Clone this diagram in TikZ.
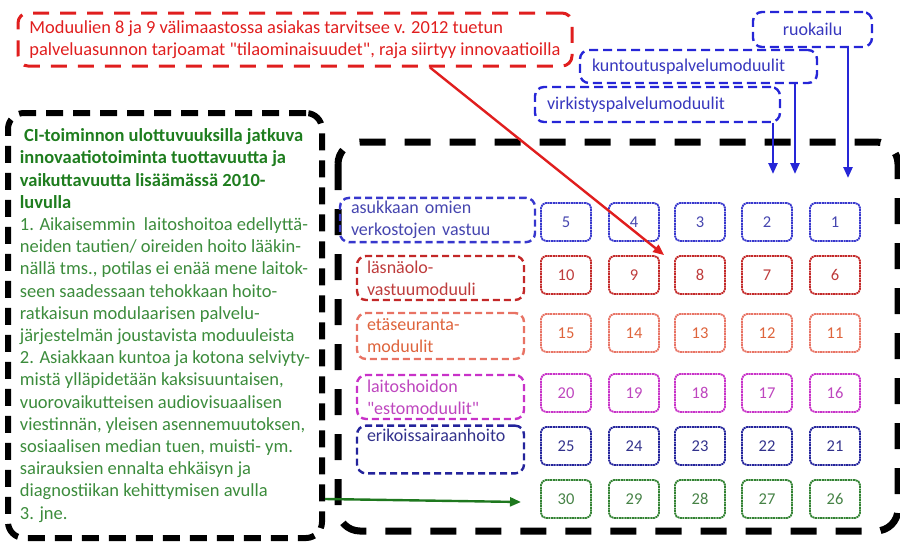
\documentclass[tikz,border=0pt]{standalone}
\usepackage{fontspec}
\setmainfont{Carlito}[Ligatures=TeXOff]
\usetikzlibrary{arrows.meta,positioning}

\definecolor{notered}{RGB}{224,30,30}
\definecolor{topblue}{RGB}{38,38,215}
\definecolor{topbluetxt}{RGB}{55,55,190}
\definecolor{row1col}{RGB}{55,55,205}
\definecolor{row1txt}{RGB}{70,70,175}
\definecolor{row2col}{RGB}{195,40,40}
\definecolor{row2txt}{RGB}{190,60,60}
\definecolor{row3col}{RGB}{232,115,100}
\definecolor{row3txt}{RGB}{222,100,60}
\definecolor{row4col}{RGB}{200,50,200}
\definecolor{row4txt}{RGB}{190,70,190}
\definecolor{row5col}{RGB}{35,35,155}
\definecolor{row5txt}{RGB}{50,50,140}
\definecolor{row6col}{RGB}{50,130,50}
\definecolor{row6txt}{RGB}{70,130,70}
\definecolor{cihead}{RGB}{30,125,30}
\definecolor{citext}{RGB}{60,140,60}
\definecolor{greenarr}{RGB}{30,120,30}

\newcommand{\cihd}[1]{\textcolor{cihead}{\textbf{#1}}}

\begin{document}
\begin{tikzpicture}[
        x=1pt, y=-1pt,
        font=\fontsize{18}{22}\selectfont,
        numbox/.style={draw, rounded corners=5pt, minimum width=50, minimum height=38, line width=1.8pt, dash pattern=on 2pt off 0.6pt, font=\fontsize{16.5}{20}\selectfont},
        labbox/.style={draw, line width=2.4pt, dash pattern=on 7pt off 4pt, rounded corners=9pt, minimum width=167, minimum height=44, inner xsep=10, text width=147, align=left},
        bluebox/.style={draw=topblue, text=topbluetxt, line width=2.4pt, dash pattern=on 9pt off 5pt, rounded corners=9pt, inner xsep=12},
        notebox/.style={draw=notered, text=notered, line width=3pt, dash pattern=on 16pt off 11pt, rounded corners=10pt, minimum width=554, minimum height=53, align=left, font=\fontsize{18.4}{22}\selectfont},
        cibox/.style={draw, text=citext, line width=6pt, dash pattern=on 17pt off 10pt, rounded corners=16pt, minimum width=314, minimum height=425, align=left, font=\fontsize{18.5}{22.2}\selectfont},
        bigframe/.style={line width=7pt, dash pattern=on 26pt off 19pt, rounded corners=22pt},
        arrow/.style={-{Triangle[length=11pt, width=9pt]}, line width=2.4pt}
    ]

    \useasboundingbox (0,0) rectangle (900,542);

    % ==========================================
    % TOP: note and the add-on modules
    % ==========================================
    \node[notebox] (note) at (295,39.5) {Moduulien 8 ja 9 välimaastossa asiakas tarvitsee v. 2012 tuetun\\palveluasunnon tarjoamat "tilaominaisuudet", raja siirtyy innovaatioilla};

    \node[bluebox, minimum width=119, minimum height=35] (ruokailu) at (812.5,29.5) {ruokailu};
    \node[bluebox, minimum width=237, minimum height=33, text width=213, align=left] (kuntoutus) at (698.5,66.5) {kuntoutuspalvelumoduulit};
    \node[bluebox, minimum width=245, minimum height=35, text width=221, align=left] (virkistys) at (657.5,104.5) {virkistyspalvelumoduulit};

    % ==========================================
    % LEFT: CI text
    % ==========================================
    \node[cibox] (ci) at (165,325.5) {\cihd{\ CI-toiminnon ulottuvuuksilla jatkuva}\\\cihd{innovaatiotoiminta tuottavuutta ja}\\\cihd{vaikuttavuutta lisäämässä 2010-}\\\cihd{luvulla}\\
        1. Aikaisemmin\ \ laitoshoitoa edellyttä-\\neiden tautien/ oireiden hoito lääkin-\\nällä tms., potilas ei enää mene laitok-\\seen saadessaan tehokkaan hoito-\\ratkaisun modulaarisen palvelu-\\järjestelmän joustavista moduuleista\\
        2. Asiakkaan kuntoa ja kotona selviyty-\\mistä ylläpidetään kaksisuuntaisen,\\vuorovaikutteisen audiovisuaalisen\\viestinnän, yleisen asennemuutoksen,\\sosiaalisen median tuen, muisti- ym.\\sairauksien ennalta ehkäisyn ja\\diagnostiikan kehittymisen avulla\\3. jne.};

    \draw[bigframe] (338,142) rectangle (898,531);

    % ==========================================
    % ROW 1: 5 ... 1
    % ==========================================
    \node[labbox, draw=row1col, text=row1txt, minimum width=195, inner xsep=11, text width=173] (lab1) at (437.5,220) {asukkaan omien\\verkostojen vastuu};
    \foreach \n/\x in {5/566,4/634,3/700,2/767,1/835}
        \node[numbox, draw=row1col, text=row1txt] (n\n) at (\x,222) {\n};

    % ==========================================
    % ROW 2: 10 ... 6
    % ==========================================
    \node[labbox, draw=row2col, text=row2txt] (lab2) at (440.5,278) {läsnäolo-\\vastuumoduuli};
    \foreach \n/\x in {10/566,9/634,8/700,7/767,6/835}
        \node[numbox, draw=row2col, text=row2txt] (n\n) at (\x,275) {\n};

    % ==========================================
    % ROW 3: 15 ... 11
    % ==========================================
    \node[labbox, draw=row3col, text=row3txt, minimum height=46] (lab3) at (440.5,336) {etäseuranta-\\moduulit};
    \foreach \n/\x in {15/566,14/634,13/700,12/767,11/835}
        \node[numbox, draw=row3col, text=row3txt] (n\n) at (\x,333) {\n};

    % ==========================================
    % ROW 4: 20 ... 16
    % ==========================================
    \node[labbox, draw=row4col, text=row4txt] (lab4) at (440.5,397) {laitoshoidon\\"estomoduulit"};
    \foreach \n/\x in {20/566,19/634,18/700,17/767,16/835}
        \node[numbox, draw=row4col, text=row4txt] (n\n) at (\x,393) {\n};

    % ==========================================
    % ROW 5: 25 ... 21
    % ==========================================
    \node[labbox, draw=row5col, text=row5txt, minimum height=45] (lab5) at (440.5,449.5) {erikoissairaanhoito\\ \strut};
    \foreach \n/\x in {25/566,24/634,23/700,22/767,21/835}
        \node[numbox, draw=row5col, text=row5txt] (n\n) at (\x,446) {\n};

    % ==========================================
    % ROW 6: 30 ... 26
    % ==========================================
    \foreach \n/\x in {30/566,29/634,28/700,27/767,26/835}
        \node[numbox, draw=row6col, text=row6txt] (n\n) at (\x,499) {\n};

    % ==========================================
    % ARROWS
    % ==========================================
    \coordinate (virkend) at (773,174);
    \coordinate (kuntend) at (795,174);
    \coordinate (ruokend) at (848,178);
    \coordinate (greenend) at (521,502);

    \draw[arrow, topblue] (virkistys.south -| virkend) -- (virkend);
    \draw[arrow, topblue] (kuntoutus.south -| kuntend) -- (kuntend);
    \draw[arrow, topblue] (ruokailu.south -| ruokend) -- (ruokend);
    \draw[arrow, notered] ([xshift=135]note.south) -- ([xshift=-10]n8.north west);
    \draw[arrow, greenarr] (ci.east |- n30) -- (greenend);

\end{tikzpicture}
\end{document}
